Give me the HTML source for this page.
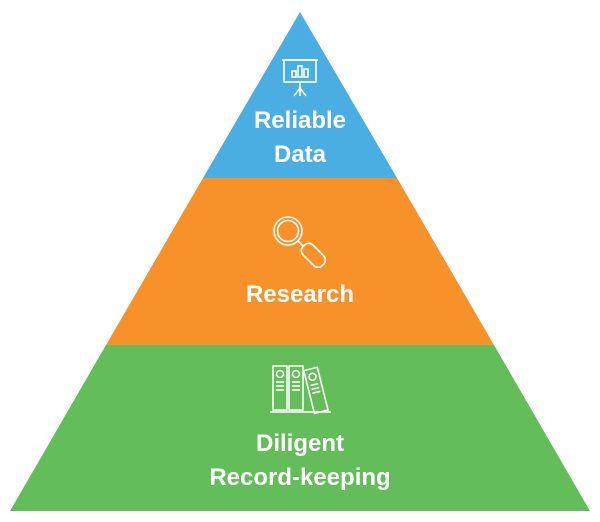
<!DOCTYPE html>
<html><head><meta charset="utf-8"><style>
html,body{margin:0;padding:0;background:#fff;}
svg{display:block}
text{font-family:"Liberation Sans",sans-serif;font-weight:bold;fill:#fff;font-size:24px;text-anchor:middle}
</style></head><body>
<svg width="600" height="522" viewBox="0 0 600 522">
<polygon points="300,12 397,178 203,178" fill="#4aaee3"/>
<polygon points="203,178 397,178 494,345 106,345" fill="#f7922a"/>
<polygon points="106,345 494,345 590,511 10,511" fill="#63bd58"/>
<g stroke="#fff" stroke-width="1.6" fill="none">
<rect x="284" y="60" width="32" height="22"/>
<line x1="282" y1="60" x2="318" y2="60"/>
<rect x="292" y="71" width="4" height="6"/><rect x="298" y="66" width="4" height="11"/><rect x="304" y="69" width="4" height="8"/>
<line x1="300" y1="82" x2="300" y2="96"/><line x1="300" y1="88" x2="294" y2="96"/><line x1="300" y1="88" x2="306" y2="96"/>
<circle cx="288" cy="231" r="14"/><circle cx="288" cy="231" r="10.5"/>
<line x1="298" y1="241" x2="303" y2="246"/>
<g transform="rotate(-45 313 255)"><rect x="306" y="242" width="14" height="27" rx="6"/></g>
<rect x="273" y="366" width="14" height="44"/><rect x="289" y="366" width="14" height="44"/>
<g transform="rotate(-14 328 410)"><rect x="314" y="366" width="14" height="44"/><circle cx="321" cy="374" r="3.5"/><line x1="317" y1="382" x2="325" y2="382"/><line x1="317" y1="386" x2="325" y2="386"/><line x1="317" y1="390" x2="325" y2="390"/></g>
<circle cx="280" cy="374" r="3.5"/><circle cx="296" cy="374" r="3.5"/>
<line x1="276" y1="382" x2="284" y2="382"/><line x1="276" y1="386" x2="284" y2="386"/><line x1="276" y1="390" x2="284" y2="390"/>
<line x1="292" y1="382" x2="300" y2="382"/><line x1="292" y1="386" x2="300" y2="386"/><line x1="292" y1="390" x2="300" y2="390"/>
<line x1="270" y1="412" x2="331" y2="412"/>
</g>
<text x="300" y="128">Reliable</text>
<text x="300" y="162">Data</text>
<text x="300" y="302">Research</text>
<text x="300" y="451">Diligent</text>
<text x="300" y="485">Record-keeping</text>
</svg>
</body></html>
